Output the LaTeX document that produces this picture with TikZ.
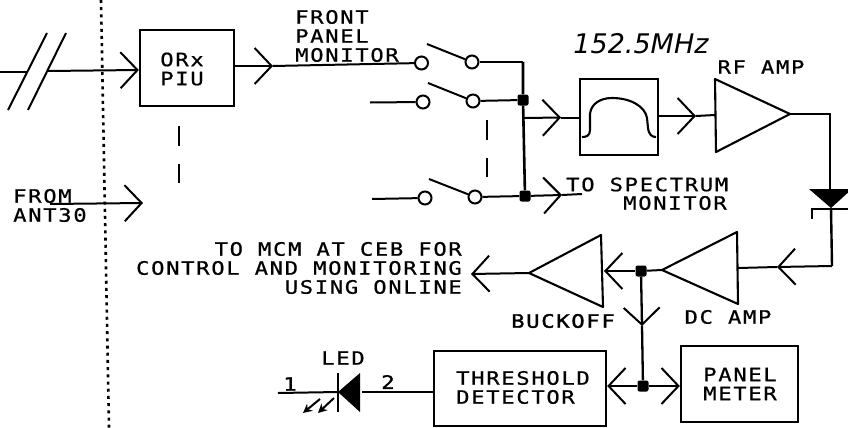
\documentclass[tikz,border=0pt]{standalone}
\usepackage{fontspec}
\usetikzlibrary{arrows.meta}
\newfontfamily\plotfont[FakeStretch=1.2,LetterSpace=9,FakeBold=0.7]{DejaVu Sans Mono}
\newfontfamily\plotbold[FakeStretch=1.2,LetterSpace=9,FakeBold=1.6]{DejaVu Sans Mono}
\newfontfamily\handfont{DejaVu Sans Oblique}
\tikzset{
  wire/.style={line width=2pt},
  chev/.style={wire,-{Straight Barb[length=17pt,width=36pt,line width=2pt]}},
  blockbox/.style={draw,line width=2.3pt,inner sep=0pt},
  amp/.style={draw,line width=2.1pt,line join=round},
  contact/.style={draw,circle,fill=white,line width=2pt,minimum size=13pt,inner sep=0pt},
  joint/.style={fill,rectangle,rounded corners=2pt,minimum size=11pt,inner sep=0pt},
  lbl/.style={inner sep=0pt,font=\plotfont\fontsize{18.5}{19}\selectfont},
  lblb/.style={inner sep=0pt,font=\plotbold\fontsize{18.5}{19}\selectfont},
  dashmark/.style={line width=2pt},
  blade/.style={line width=2pt},
}
\begin{document}
\begin{tikzpicture}[x=1pt,y=-1pt]
\useasboundingbox (0,0) rectangle (848,428);
% boundary
\coordinate (dtop) at (101,0);
\coordinate (dbot) at (109,428);
\draw[line width=2.6pt,dash pattern=on 3pt off 4.2pt] (dtop) -- (dbot);
% blocks
\node[blockbox,minimum width=94pt,minimum height=76pt] (piu) at (187,68) {};
\node[blockbox,minimum width=78pt,minimum height=76pt] (filter) at (619,117) {};
\node[blockbox,minimum width=172pt,minimum height=75pt] (thr) at (520,388.5) {};
\node[blockbox,minimum width=117pt,minimum height=76pt] (meter) at (739.5,384) {};
% labels
\node[lbl,align=center] (piut) at (182,69) {ORx\\PIU};
\node[lbl,align=left,anchor=west] (fpm) at (295,36) {FRONT\\PANEL\\MONITOR};
\node[lbl,align=center] (rft) at (761,67) {RF AMP};
\node[lbl,anchor=west,align=left] (from) at (13,205.5) {FROM\\ANT30};
\node[lbl,anchor=west] (tos) at (566,184.5) {TO SPECTRUM};
\node[lbl,anchor=west] (mon) at (623,203) {MONITOR};
\node[lbl,align=right,anchor=east] (mcm) at (462,268) {TO MCM AT CEB FOR\\CONTROL AND MONITORING\\USING ONLINE};
\node[lblb,anchor=west] (buck) at (511,321) {BUCKOFF};
\node[lbl] (dct) at (728,317) {DC AMP};
\node[lbl,align=left,anchor=west] (thrt) at (456,387.5) {THRESHOLD\\DETECTOR};
\node[lbl,align=center] (mett) at (740,384) {PANEL\\METER};
\node[lbl] (ledt) at (343,358) {LED};
\node[lblb] (one) at (290,384) {1};
\node[lblb] (two) at (388,382) {2};
\node[inner sep=0pt,font=\handfont\fontsize{27}{27}\selectfont] (freq) at (641,44) {152.5MHz};
% input with break
\coordinate (in0) at (0,72);
\coordinate (in1) at (28,72);
\coordinate (in2) at (48,71);
\draw[wire] (in0) -- (in1);
\draw[chev] (in2) -- (piu.west |- 0,70);
\coordinate (s1a) at (8,110);
\coordinate (s1b) at (47,33);
\coordinate (s2a) at (28,110);
\coordinate (s2b) at (66,33);
\draw[wire] (s1a) -- (s1b);
\draw[wire] (s2a) -- (s2b);
% from ANT30
\coordinate (ant0) at (50,204);
\coordinate (ant1) at (143,203);
\draw[chev] (ant0) -- (ant1);
% switches
\node[contact] (c1l) at (421.5,63) {};
\node[contact] (c2l) at (423,102) {};
\node[contact] (c3l) at (425,198) {};
\node[contact] (c1r) at (472,62) {};
\node[contact] (c2r) at (473,101) {};
\node[contact] (c3r) at (475,197) {};
\coordinate (b1) at (427,44);
\coordinate (b2) at (428,83);
\coordinate (b3) at (429,179);
\draw[blade] (b1) -- (c1r);
\draw[blade] (b2) -- (c2r);
\draw[blade] (b3) -- (c3r);
\coordinate (st2) at (370,102.5);
\coordinate (st3) at (372,199);
\draw[wire] (st2) -- (c2l);
\draw[wire] (st3) -- (c3l);
% PIU to first contact
\coordinate (pt1) at (273,66);
\draw[chev] (piu.east |- pt1) -- (pt1);
\draw[wire] (pt1) -- (c1l);
% bus
\coordinate (bustop) at (523,62);
\node[joint] (j1) at (523,100) {};
\node[joint] (j2) at (525,196) {};
\draw[wire] (c1r) -- (bustop);
\draw[line width=2.6pt] (bustop) -- (j1) -- (j2);
\draw[wire] (c2r) -- (j1);
\draw[wire] (c3r) -- (j2);
% filter chain
\coordinate (bt) at (524,118);
\coordinate (ft1) at (561,117.5);
\draw[chev] (bt) -- (ft1);
\draw[wire] (ft1) -- (filter.west |- ft1);
\draw[line width=2.1pt] (582,137) .. controls (586,137) and (590,136) .. (590,130) -- (590,114) .. controls (591,104) and (600,98) .. (612,98) .. controls (630,98) and (645,106) .. (647,118) -- (648,128) .. controls (649,135) and (652,137) .. (656,137);
\coordinate (ft2) at (696,116);
\draw[chev] (filter.east |- ft2) -- (ft2);
% RF amp
\coordinate (ra) at (715,79);
\coordinate (rb) at (790,114);
\coordinate (rc) at (716,152);
\draw[amp] (ra) -- (rb) -- (rc) -- cycle;
\coordinate (ral) at (715,115);
\draw[wire] (ft2) -- (ral);
% detector diode
\coordinate (ccr) at (830,114);
\coordinate (dka) at (809,189);
\coordinate (dkb) at (852,189);
\coordinate (dkc) at (831,208);
\fill (dka) -- (dkb) -- (dkc) -- cycle;
\draw[line width=2.4pt] (rb) -- (ccr) -- (830,190);
\coordinate (bara) at (812,209);
\coordinate (barb) at (848,209);
\coordinate (hook) at (812,219);
\draw[line width=2.2pt] (hook) -- (bara) -- (barb);
\coordinate (dwn) at (832,266);
\draw[line width=2.4pt] (dkc) -- (dwn);
% return to DC amp
\coordinate (ft3) at (777,267);
\draw[chev] (dwn) -- (ft3);
\coordinate (da) at (737,232);
\coordinate (db) at (738,304);
\coordinate (dc) at (662,270);
\draw[amp] (da) -- (db) -- (dc) -- cycle;
\coordinate (dr) at (738,268);
\draw[wire] (ft3) -- (dr);
% junction and buckoff
\node[joint] (j3) at (641,271) {};
\node[joint] (j4) at (643,386) {};
\draw[wire] (dc) -- (j3);
\coordinate (ft4) at (604,271);
\draw[chev] (j3) -- (ft4);
\coordinate (ba) at (601,235);
\coordinate (bb) at (603,307);
\coordinate (bc) at (529,273);
\draw[amp] (ba) -- (bb) -- (bc) -- cycle;
\coordinate (ft5) at (471,274);
\draw[chev] (bc) -- (ft5);
% down to threshold and meter
\coordinate (ft6) at (642,326);
\draw[chev,line width=2.3pt] (j3) -- (ft6);
\draw[line width=2.3pt] (ft6) -- (j4);
\draw[chev] (j4) -- (thr.east |- j4);
\draw[chev] (j4) -- (meter.west |- j4);
% LED
\coordinate (lbar1) at (338,373);
\coordinate (lbar2) at (338,412);
\coordinate (lapex) at (338,392);
\coordinate (lb1) at (360,373);
\coordinate (lb2) at (360,412);
\fill (lapex) -- (lb1) -- (lb2) -- cycle;
\draw[line width=2.6pt] (lbar1) -- (lbar2);
\coordinate (lw0) at (278,393);
\coordinate (lw1) at (362,392);
\draw[wire] (lw0) -- (lapex);
\draw[wire] (lw1) -- (thr.west |- lw1);
\coordinate (ar1a) at (334,398);
\coordinate (ar1b) at (318,413);
\coordinate (ar2a) at (320,399);
\coordinate (ar2b) at (303,413);
\draw[line width=2pt,-{Stealth[length=9pt,width=9pt]}] (ar1a) -- (ar1b);
\draw[line width=2pt,-{Stealth[length=9pt,width=9pt]}] (ar2a) -- (ar2b);
% dashes
\draw[dashmark] (178.5,126) -- (178.5,146);
\draw[dashmark] (179,164) -- (179,183);
\draw[dashmark] (486.5,120) -- (486.5,140);
\draw[dashmark] (487,158) -- (487,177);
% to spectrum monitor
\coordinate (ft7) at (562,195);
\coordinate (spe) at (582,194);
\draw[chev] (j2) -- (ft7);
\draw[wire] (ft7) -- (spe);
\end{tikzpicture}
\end{document}
